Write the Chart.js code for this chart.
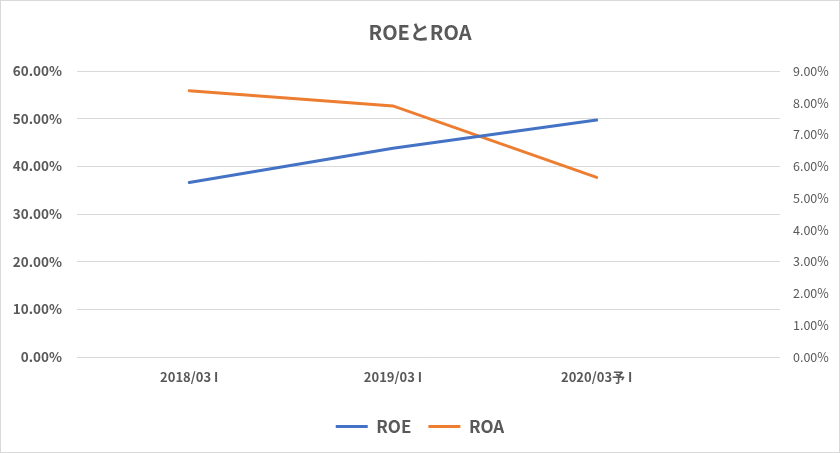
<!DOCTYPE html>
<html>
<head>
<meta charset="utf-8">
<script src="https://cdn.jsdelivr.net/npm/chart.js@4"></script>
<style>
  html, body { margin: 0; padding: 0; background: #fff; }
  #wrap { width: 840px; height: 453px; }
</style>
</head>
<body>
<div id="wrap"><canvas id="myChart" width="840" height="453"></canvas></div>
<script>
const categories = ['2018/03 I', '2019/03 I', '2020/03予 I']
const roe = [36.6, 43.8, 49.7]   // left axis, %
const roa = [8.38, 7.90, 5.65]   // right axis, %
const leftMax = 60
const rightMax = 9

const gray = '#595959'
const font_family = '"Noto Sans CJK JP", "Noto Sans", sans-serif'

const toPoints = (arr) => arr.map((v, i) => ({ x: i, y: v }))
const pct = (v) => Number(v).toFixed(2) + '%'

const frame = {
  id: 'frame',
  beforeDraw(chart) {
    const c = chart.ctx
    c.save()
    c.fillStyle = '#fff'
    c.fillRect(0, 0, chart.width, chart.height)
    c.strokeStyle = '#d9d9d9'
    c.lineWidth = 1
    c.strokeRect(0.5, 0.5, chart.width - 1, chart.height - 1)
    c.restore()
  }
}

const data = {
  datasets: [
    {
      label: 'ROE',
      data: toPoints(roe),
      yAxisID: 'y',
      borderColor: '#4472C4',
      backgroundColor: '#4472C4',
      borderWidth: 3,
      pointRadius: 0,
      borderCapStyle: 'round'
    },
    {
      label: 'ROA',
      data: toPoints(roa),
      yAxisID: 'y1',
      borderColor: '#ED7D31',
      backgroundColor: '#ED7D31',
      borderWidth: 3,
      pointRadius: 0,
      borderCapStyle: 'round'
    }
  ]
}

const config = {
  type: 'line',
  data: data,
  plugins: [frame],
  options: {
    responsive: false,
    animation: false,
    layout: { padding: { left: 0, right: 0, top: 0, bottom: 8 } },
    plugins: {
      title: {
        display: true,
        text: 'ROEとROA',
        color: gray,
        font: { family: font_family, size: 20, weight: 'bold' },
        padding: { top: 20, bottom: 27 }
      },
      legend: {
        position: 'bottom',
        labels: {
          usePointStyle: true,
          pointStyle: 'line',
          pointStyleWidth: 32,
          color: gray,
          padding: 17,
          font: { family: font_family, size: 17, weight: 'bold' }
        }
      },
      tooltip: { enabled: false }
    },
    scales: {
      x: {
        type: 'linear',
        min: -0.551,
        max: 2.9,
        afterBuildTicks: (s) => { s.ticks = categories.map((c, i) => ({ value: i })) },
        afterFit: (s) => { s.height = 44 },
        grid: { display: false },
        border: { display: false },
        ticks: {
          autoSkip: false,
          maxRotation: 0,
          padding: 4,
          color: gray,
          font: { family: font_family, size: 13, weight: 'bold' },
          callback: (v) => categories[v]
        }
      },
      y: {
        position: 'left',
        min: 0,
        max: leftMax,
        afterFit: (s) => { s.width = 77 },
        grid: { color: '#d9d9d9', drawTicks: false },
        border: { display: false },
        ticks: {
          stepSize: 10,
          padding: 15,
          color: gray,
          font: { family: font_family, size: 13.5, weight: 'bold' },
          callback: pct
        }
      },
      y1: {
        position: 'right',
        min: 0,
        max: rightMax,
        afterFit: (s) => { s.width = 60 },
        grid: { drawOnChartArea: false, drawTicks: false },
        border: { display: false },
        ticks: {
          stepSize: 1,
          padding: 13,
          color: gray,
          font: { family: font_family, size: 12.5 },
          callback: pct
        }
      }
    }
  }
}

const myChart = new Chart(document.getElementById('myChart'), config)
</script>
</body>
</html>
